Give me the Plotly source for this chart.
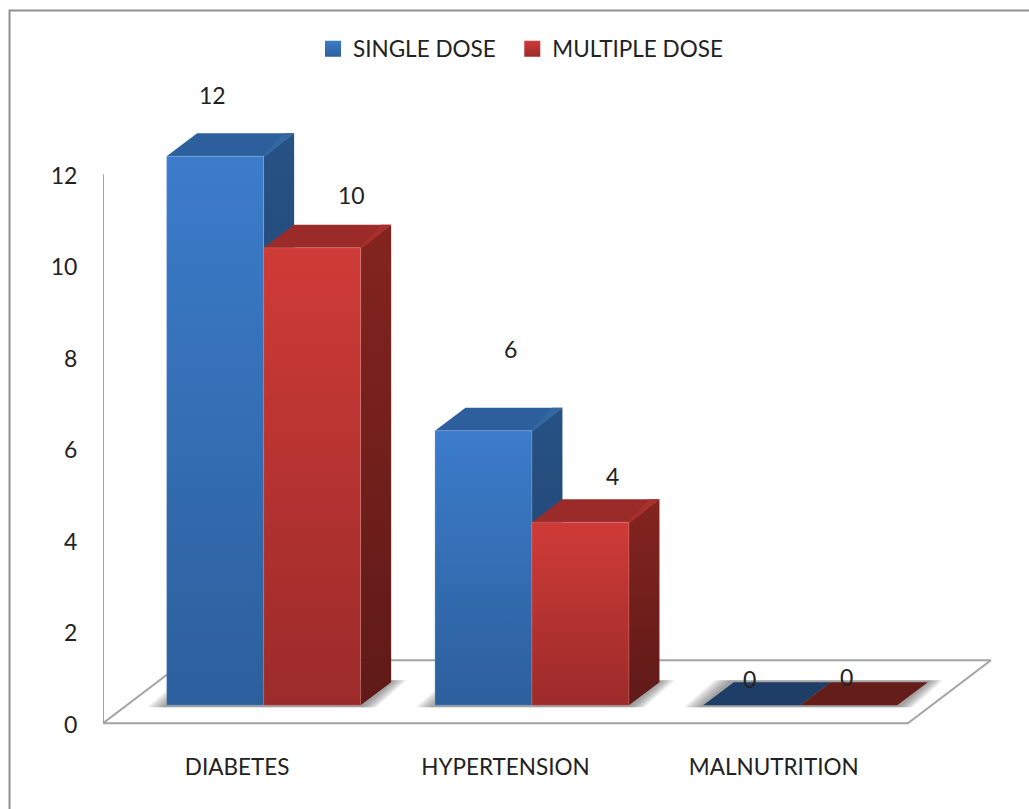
import plotly.graph_objects as go

# Chart content
categories = ["DIABETES", "HYPERTENSION", "MALNUTRITION"]
single_dose = [12, 6, 0]
multiple_dose = [10, 4, 0]
y_ticks = [0, 2, 4, 6, 8, 10, 12]

# Figure box and axis extents
WIDTH, HEIGHT = 1029, 809
M_L, M_R, M_T, M_B = 103, 29, 37, 40
Y_MIN, Y_MAX = -1, 15
PX_X = 268.3                               # pixels per category
PX_Y = (HEIGHT - M_T - M_B) / (Y_MAX - Y_MIN)  # pixels per value unit
X_MIN = -0.5
X_MAX = X_MIN + (WIDTH - M_L - M_R) / PX_X
LABEL_DROP = 1.5 / PX_Y                    # tick labels sit slightly below their level

# Pseudo-3D geometry, in axis units
BAR_W = 97 / PX_X
PAIR_SHIFT = 26.5 / PX_X
BASE = 18 / PX_Y
DEPTH_X = 30.5 / PX_X
DEPTH_Y = 23 / PX_Y
FLOOR_X = 83 / PX_X
FLOOR_Y = 63 / PX_Y

FONT = "Lato"
INK = "#222222"
EDGE = "#a3a3a3"

STYLES = [
    dict(front=("#3c7ccb", "#2c5f9c"), top="#2c5f9b", bevel="#33699f", side=("#275285", "#1e3f69"),
         flat="#1f3e67", edge="rgba(160,195,235,0.30)"),
    dict(front=("#cf3b37", "#9b2b2a"), top="#9a2b28", bevel="#a8302c", side=("#84241f", "#5f1a18"),
         flat="#651d1a", edge="rgba(235,150,150,0.30)"),
]

# Horizontal and vertical nudges of each value label, in pixels
LABEL_NUDGE = [
    [(-3, 61), (39, 53)],
    [(27, 82), (32, 46)],
    [(-2, 26), (-2, 28)],
]

fig = go.Figure()


def polygon(xs, ys, color=None, gradient=None, line=None):
    """Add one closed filled polygon to the plot."""
    trace = dict(
        x=xs + xs[:1], y=ys + ys[:1], mode="lines", fill="toself",
        showlegend=False, hoverinfo="skip", cliponaxis=False,
        line=dict(color=line or "rgba(0,0,0,0)", width=1),
    )
    if gradient:
        low, high, y0, y1 = gradient
        trace["fillgradient"] = dict(
            type="vertical", start=y0, stop=y1,
            colorscale=[[0, low], [1, high]],
        )
    else:
        trace["fillcolor"] = color
    fig.add_trace(go.Scatter(**trace))


# Floor outline
floor_x = [X_MIN, X_MIN + 3, X_MIN + 3 + FLOOR_X, X_MIN + FLOOR_X]
floor_y = [0, 0, FLOOR_Y, FLOOR_Y]
polygon(floor_x, floor_y, color="#ffffff")
fig.add_trace(go.Scatter(
    x=floor_x + floor_x[:1], y=floor_y + floor_y[:1], mode="lines",
    line=dict(color=EDGE, width=2), showlegend=False, hoverinfo="skip", cliponaxis=False,
))
# Vertical axis rule, stopping at the top tick
fig.add_trace(go.Scatter(
    x=[X_MIN, X_MIN], y=[y_ticks[0], y_ticks[-1]], mode="lines",
    line=dict(color=EDGE, width=2), showlegend=False, hoverinfo="skip", cliponaxis=False,
))

# Soft floor shadows under each pair of bars
for i in range(len(categories)):
    left = i + PAIR_SHIFT - BAR_W
    right = i + PAIR_SHIFT + BAR_W
    for grow in (19, 16, 13, 10, 7, 4):
        g = grow / PX_X
        v = min(grow, 4) / PX_Y
        polygon(
            [left - g, right + g * 0.8, right + g * 0.8 + DEPTH_X, left - g + DEPTH_X],
            [BASE - v * 0.5, BASE - v * 0.5, BASE + DEPTH_Y + v * 0.5, BASE + DEPTH_Y + v * 0.5],
            color="rgba(70,70,70,0.11)",
        )

# Bars: side face, top face, then front face
for i in range(len(categories)):
    for s, series in enumerate((single_dose, multiple_dose)):
        value = series[i]
        st = STYLES[s]
        x0 = i + PAIR_SHIFT - BAR_W + s * BAR_W
        x1 = x0 + BAR_W
        top = BASE + value
        if value > 0:
            polygon(
                [x1, x1 + DEPTH_X, x1 + DEPTH_X, x1],
                [BASE, BASE + DEPTH_Y, top + DEPTH_Y, top],
                gradient=(st["side"][1], st["side"][0], BASE, top + DEPTH_Y),
            )
        polygon(
            [x0, x1, x1 + DEPTH_X, x0 + DEPTH_X],
            [top, top, top + DEPTH_Y, top + DEPTH_Y],
            color=st["top"] if value > 0 else st["flat"],
        )
        if value > 0:
            inset = 10 / PX_X
            polygon(
                [x1 - inset * 0.1, x1 + inset * 0.2, x1 + DEPTH_X, x1 + DEPTH_X - inset],
                [top, top, top + DEPTH_Y, top + DEPTH_Y],
                color=st["bevel"],
            )
            polygon(
                [x0, x1, x1, x0],
                [BASE, BASE, top, top],
                gradient=(st["front"][1], st["front"][0], BASE, top),
                line=st["edge"],
            )

# Value labels, anchored to the front top edge of each bar
for i in range(len(categories)):
    for s, series in enumerate((single_dose, multiple_dose)):
        value = series[i]
        dx, dy = LABEL_NUDGE[i][s]
        fig.add_annotation(
            x=i + PAIR_SHIFT - BAR_W + (s + 0.5) * BAR_W, y=BASE + value,
            text=str(value), showarrow=False, xshift=dx, yshift=dy,
            font=dict(family=FONT, size=23, color=INK),
        )

# Legend entries; the trailing spaces set the pitch between the two items
for name, st in zip(("SINGLE DOSE\u00a0\u00a0", "MULTIPLE DOSE"), STYLES):
    fig.add_trace(go.Scatter(
        x=[None], y=[None], mode="markers", name=name, hoverinfo="skip",
        marker=dict(
            symbol="square", size=16, color=st["front"][0],
            gradient=dict(type="vertical", color=st["front"][1]),
        ),
    ))

# Carrier for the overlaid value axis that holds the tick labels
fig.add_trace(go.Scatter(x=[None], y=[None], yaxis="y2", showlegend=False, hoverinfo="skip"))

# Chart frame along the left and top edges
plot_w = WIDTH - M_L - M_R
plot_h = HEIGHT - M_T - M_B
fig.add_shape(
    type="path", xref="paper", yref="paper", layer="below",
    path="M {:.4f} {:.4f} L {:.4f} {:.4f} L {:.4f} {:.4f}".format(
        (9.5 - M_L) / plot_w, -M_B / plot_h,
        (9.5 - M_L) / plot_w, 1 + (M_T - 10.5) / plot_h,
        1 + M_R / plot_w, 1 + (M_T - 10.5) / plot_h,
    ),
    line=dict(color="#8f8f8f", width=2),
)

fig.update_layout(
    width=WIDTH, height=HEIGHT,
    margin=dict(l=M_L, r=M_R, t=M_T, b=M_B, autoexpand=False),
    paper_bgcolor="#ffffff", plot_bgcolor="rgba(0,0,0,0)",
    font=dict(family=FONT, size=23, color=INK),
    legend=dict(
        orientation="h", xanchor="left", yanchor="middle",
        x=(313 - M_L) / plot_w,
        y=1 - (49 - M_T) / plot_h,
        bgcolor="rgba(0,0,0,0)", itemwidth=30,
        font=dict(family=FONT, size=22.5, color=INK),
    ),
    xaxis=dict(
        range=[X_MIN, X_MAX], tickmode="array",
        tickvals=list(range(len(categories))), ticktext=categories,
        tickfont=dict(family=FONT, size=22.5, color=INK),
        showgrid=False, zeroline=False, showline=False,
        anchor="free", position=(0 - Y_MIN) / (Y_MAX - Y_MIN),
        ticks="outside", ticklen=24, tickcolor="rgba(0,0,0,0)",
    ),
    yaxis=dict(
        range=[Y_MIN, Y_MAX], showticklabels=False, ticks="",
        showgrid=False, zeroline=False, showline=False,
    ),
    yaxis2=dict(
        overlaying="y", side="left", anchor="x",
        range=[Y_MIN + LABEL_DROP, Y_MAX + LABEL_DROP], tickmode="array", tickvals=y_ticks,
        showgrid=False, zeroline=False, showline=False,
        ticks="outside", ticklen=20, tickcolor="rgba(0,0,0,0)",
    ),
)

fig.write_html("out.html")
